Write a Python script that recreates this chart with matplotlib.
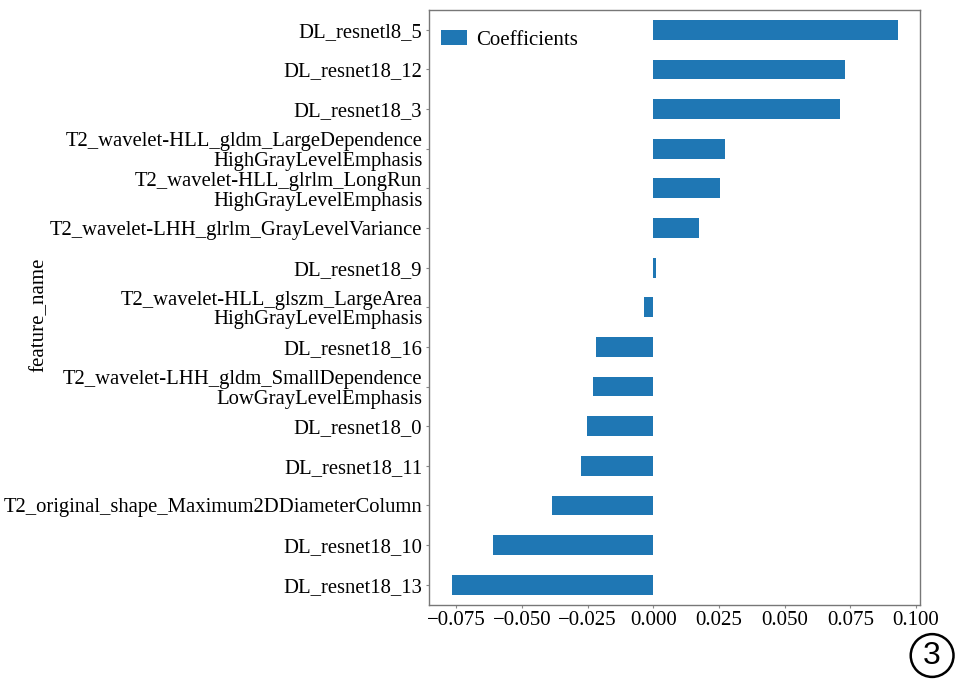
import matplotlib
matplotlib.use('Agg')
import matplotlib.pyplot as plt
import numpy as np

plt.rcParams['font.family'] = ['Liberation Serif', 'DejaVu Serif']
plt.rcParams['axes.unicode_minus'] = True

# features, bottom to top (as drawn by barh)
features = [
    'DL_resnet18_13',
    'DL_resnet18_10',
    'T2_original_shape_Maximum2DDiameterColumn',
    'DL_resnet18_11',
    'DL_resnet18_0',
    'T2_wavelet-LHH_gldm_SmallDependence\nLowGrayLevelEmphasis',
    'DL_resnet18_16',
    'T2_wavelet-HLL_glszm_LargeArea\nHighGrayLevelEmphasis',
    'DL_resnet18_9',
    'T2_wavelet-LHH_glrlm_GrayLevelVariance',
    'T2_wavelet-HLL_glrlm_LongRun\nHighGrayLevelEmphasis',
    'T2_wavelet-HLL_gldm_LargeDependence\nHighGrayLevelEmphasis',
    'DL_resnet18_3',
    'DL_resnet18_12',
    'DL_resnetl8_5',
]
coefs = [-0.0768, -0.0610, -0.0386, -0.0275, -0.0252, -0.0230, -0.0218,
         -0.0034, 0.0010, 0.0174, 0.0254, 0.0273, 0.0711, 0.0729, 0.0932]
xticks = [-0.075, -0.050, -0.025, 0.000, 0.025, 0.050, 0.075, 0.100]

fig = plt.figure(figsize=(9.57, 6.8), dpi=100)
ax = fig.add_axes([0.4478, 0.111, 0.9613 - 0.4478, 0.9853 - 0.111])

ypos = np.arange(len(features))
ax.barh(ypos, coefs, height=0.5, color='#1f77b4', label='Coefficients')
ax.set_ylim(-0.5, len(features) - 0.5)
ax.set_xlim(-0.0856, 0.1015)

ax.set_yticks(ypos)
ax.set_yticklabels(features, fontsize=14.85, linespacing=1.05)
ax.set_xticks(xticks)
ax.set_xticklabels(['%.3f' % v if v >= 0 else '\u2212%.3f' % -v for v in xticks], fontsize=15)
ax.tick_params(axis='both', length=2.5, width=0.8, color='#888888', pad=2)
ax.set_ylabel('feature_name', fontsize=15)
ax.yaxis.set_label_coords(-0.774, 0.487)
for s in ax.spines.values():
    s.set_color('#777777')
    s.set_linewidth(1.0)

ax.legend(loc='upper left', bbox_to_anchor=(0.0086, 0.980), borderaxespad=0,
          fontsize=15, frameon=False, handlelength=1.25, handletextpad=0.45)

# panel mark
fig.text(0.974, 0.036, '3', fontsize=23, family='Liberation Sans',
         ha='center', va='center',
         bbox=dict(boxstyle='circle,pad=0.2', fc='white', ec='black', lw=1.8))

fig.savefig('out.png', dpi=100)
